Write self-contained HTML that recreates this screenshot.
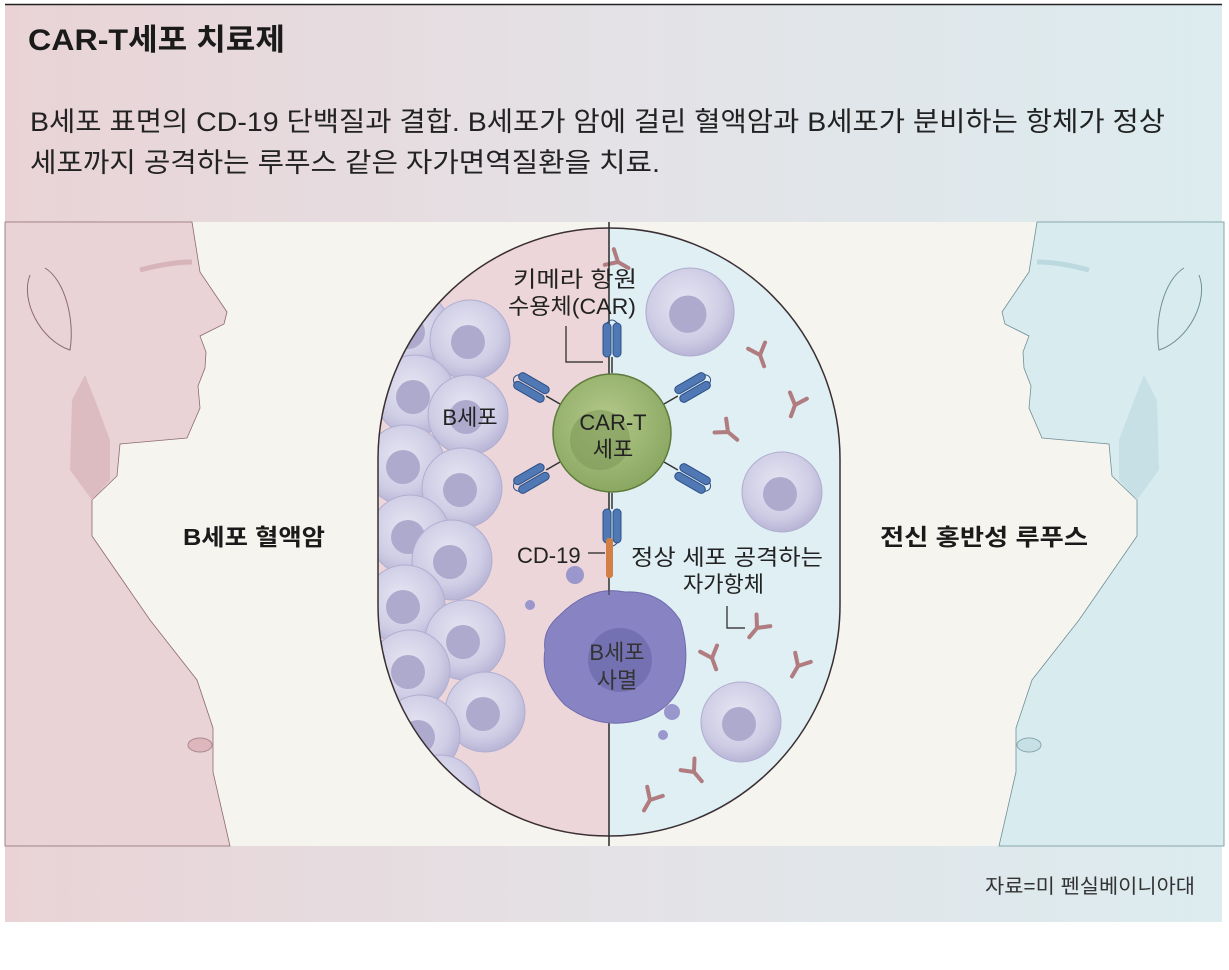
<!DOCTYPE html>
<html><head><meta charset="utf-8"><style>
html,body{margin:0;padding:0;background:#fff;}
body{width:1229px;height:970px;overflow:hidden;position:relative;font-family:"Liberation Sans","Noto Sans CJK KR",sans-serif;}
svg{position:absolute;left:0;top:0;}
</style></head><body>
<svg width="1229" height="970" viewBox="0 0 1229 970" xmlns="http://www.w3.org/2000/svg" font-family="Liberation Sans, Noto Sans CJK KR, sans-serif">
<defs>
<linearGradient id="bg" x1="0" x2="1" y1="0" y2="0">
<stop offset="0" stop-color="#e9d3d6"/><stop offset="0.5" stop-color="#e4e2e6"/><stop offset="1" stop-color="#dcecef"/>
</linearGradient>
<radialGradient id="cell" cx="0.45" cy="0.4" r="0.6">
<stop offset="0" stop-color="#e6e5f2"/><stop offset="0.7" stop-color="#cfcde5"/><stop offset="1" stop-color="#b8b5d6"/>
</radialGradient>
<radialGradient id="green" cx="0.45" cy="0.4" r="0.6">
<stop offset="0" stop-color="#b4c98a"/><stop offset="1" stop-color="#8ba863"/>
</radialGradient>
<clipPath id="cap"><path d="M378,459 A231,231 0 0 1 840,459 L840,605 A231,231 0 0 1 378,605 Z"/></clipPath>
<g id="c"><circle r="40" fill="url(#cell)" stroke="#b0add0" stroke-width="1"/><circle cx="-2" cy="2" r="17" fill="#aeaacd"/></g>
<g id="rec"><line x1="0" y1="0" x2="0" y2="-16" stroke="#333" stroke-width="1.5"/>
<rect x="-9" y="-50" width="8" height="34" rx="4" fill="#4f78b5" stroke="#2d4f86"/><rect x="1" y="-50" width="8" height="34" rx="4" fill="#4f78b5" stroke="#2d4f86"/>
<path d="M-5,-50 Q0,-56 5,-50" fill="none" stroke="#2d4f86"/></g>
<g id="ab" stroke="#b07c80" stroke-width="4" stroke-linecap="round" fill="none"><path d="M0,12 L0,0 L-9,-10 M0,0 L9,-10"/></g>
</defs>
<rect x="5" y="5" width="1217" height="917" fill="url(#bg)"/>
<line x1="5" y1="4.5" x2="1222" y2="4.5" stroke="#222" stroke-width="1.5"/>
<rect x="5" y="222" width="1217" height="624" fill="#f6f4ef"/>
<!-- left person -->
<path d="M5,222 L192,222 L200,272 L227,312 L224,324 L200,336 L206,352 L205,368 L198,386 L200,408 L187,438 L120,444 L117,476 L92,500 L92,536 L150,620 L197,680 L213,728 L213,772 L230,846 L5,846 Z" fill="#e9d3d6" stroke="#8c6a70" stroke-width="0.8"/>
<path d="M85,375 L95,400 L110,440 L110,480 L92,500 L70,470 L72,400Z" fill="#dcbcc1"/>
<path d="M30,275 C20,300 40,340 70,350 C75,320 65,280 45,268" fill="none" stroke="#8c6a70"/>
<path d="M140,270 Q170,262 192,262" stroke="#d6b4ba" stroke-width="5" fill="none"/>
<ellipse cx="200" cy="745" rx="12" ry="7" fill="#ddb7bc" stroke="#a98a90"/>
<!-- right person (mirrored) -->
<g transform="translate(1229,0) scale(-1,1)">
<path d="M5,222 L192,222 L200,272 L227,312 L224,324 L200,336 L206,352 L205,368 L198,386 L200,408 L187,438 L120,444 L117,476 L92,500 L92,536 L150,620 L197,680 L213,728 L213,772 L230,846 L5,846 Z" fill="#d8ecf0" stroke="#6f8f96" stroke-width="0.8"/>
<path d="M85,375 L95,400 L110,440 L110,480 L92,500 L70,470 L72,400Z" fill="#c6e0e6"/>
<path d="M30,275 C20,300 40,340 70,350 C75,320 65,280 45,268" fill="none" stroke="#6f8f96"/>
<path d="M140,270 Q170,262 192,262" stroke="#bcd9df" stroke-width="5" fill="none"/>
<ellipse cx="200" cy="745" rx="12" ry="7" fill="#c6e0e6" stroke="#8aa8ae"/>
</g>
<!-- capsule -->
<g clip-path="url(#cap)">
<rect x="378" y="228" width="231" height="620" fill="#ecd6d9"/>
<rect x="609" y="228" width="231" height="620" fill="#dfeff3"/>
<use href="#c" x="410" y="330"/><use href="#c" x="470" y="340"/>
<use href="#c" x="415" y="395"/><use href="#c" x="468" y="415"/>
<use href="#c" x="405" y="465"/><use href="#c" x="462" y="488"/>
<use href="#c" x="410" y="535"/><use href="#c" x="452" y="560"/>
<use href="#c" x="405" y="605"/><use href="#c" x="465" y="640"/>
<use href="#c" x="410" y="670"/><use href="#c" x="485" y="712"/>
<use href="#c" x="420" y="735"/><use href="#c" x="440" y="795"/>
<use href="#c" x="690" y="312" transform="translate(690,312) scale(1.1) translate(-690,-312)"/>
<use href="#c" x="782" y="492"/>
<use href="#c" x="741" y="722"/>
<use href="#ab" transform="translate(618,262) rotate(-60)"/>
<use href="#ab" transform="translate(760,355) rotate(-20)"/>
<use href="#ab" transform="translate(795,405) rotate(20)"/>
<use href="#ab" transform="translate(728,432) rotate(-50)"/>
<use href="#ab" transform="translate(712,658) rotate(-20)"/>
<use href="#ab" transform="translate(798,666) rotate(30)"/>
<use href="#ab" transform="translate(694,772) rotate(-40)"/>
<use href="#ab" transform="translate(650,800) rotate(30)"/>
</g>
<path d="M378,459 A231,231 0 0 1 840,459 L840,605 A231,231 0 0 1 378,605 Z" fill="none" stroke="#3a2f33" stroke-width="1.5"/>
<line x1="609" y1="222" x2="609" y2="846" stroke="#2a2a2a" stroke-width="1.5"/>
<!-- dead B cell -->
<path d="M560,615 Q590,585 625,592 Q660,590 680,620 Q690,650 683,680 Q670,715 630,722 Q595,728 565,705 Q540,680 545,650 Q542,630 560,615Z" fill="#8884c3" stroke="#6f6bad"/>
<circle cx="620" cy="660" r="32" fill="#7471b2"/>
<circle cx="575" cy="575" r="9" fill="#9a97cc"/><circle cx="530" cy="605" r="5" fill="#9a97cc"/><circle cx="672" cy="712" r="8" fill="#9a97cc"/><circle cx="663" cy="735" r="5" fill="#9a97cc"/>
<!-- CAR-T -->
<use href="#rec" transform="translate(612,373)"/>
<use href="#rec" transform="translate(612,493) rotate(180)"/>
<use href="#rec" transform="translate(560,404) rotate(-60)"/>
<use href="#rec" transform="translate(664,404) rotate(60)"/>
<use href="#rec" transform="translate(560,462) rotate(-120)"/>
<use href="#rec" transform="translate(664,462) rotate(120)"/>
<circle cx="612" cy="433" r="59" fill="url(#green)" stroke="#5d7a3a" stroke-width="1.5"/>
<circle cx="600" cy="440" r="30" fill="#7f9a5a" opacity="0.6"/>
<rect x="606" y="538" width="7" height="40" rx="3" fill="#d17f45"/>
<line x1="609" y1="578" x2="609" y2="595" stroke="#333"/>
<!-- labels -->
<g font-size="22" fill="#222">
<text x="513" y="287" textLength="124" lengthAdjust="spacingAndGlyphs">키메라 항원</text>
<text x="508" y="314" textLength="128" lengthAdjust="spacingAndGlyphs">수용체(CAR)</text>
<text x="470" y="425" text-anchor="middle">B세포</text>
<text x="613" y="430" text-anchor="middle">CAR-T</text>
<text x="613" y="457" text-anchor="middle">세포</text>
<text x="517" y="563">CD-19</text>
<text x="631" y="565" textLength="192" lengthAdjust="spacingAndGlyphs">정상 세포 공격하는</text>
<text x="683" y="592">자가항체</text>
<text x="617" y="660" text-anchor="middle" fill="#333">B세포</text>
<text x="617" y="688" text-anchor="middle" fill="#333">사멸</text>
</g>
<path d="M566,326 L566,362 L603,362" fill="none" stroke="#222" stroke-width="1.2"/>
<line x1="588" y1="553" x2="605" y2="553" stroke="#222" stroke-width="1.2"/>
<path d="M727,606 L727,628 L745,628" fill="none" stroke="#222" stroke-width="1.2"/>
<use href="#ab" transform="translate(757,628) rotate(40)"/>
<text x="183" y="545" font-size="23" font-weight="bold" fill="#1a1a1a" textLength="142" lengthAdjust="spacingAndGlyphs">B세포 혈액암</text>
<text x="880" y="545" font-size="23" font-weight="bold" fill="#1a1a1a" textLength="208" lengthAdjust="spacingAndGlyphs">전신 홍반성 루푸스</text>
<text x="28" y="50" font-size="30" font-weight="bold" fill="#1a1a1a" textLength="257" lengthAdjust="spacingAndGlyphs">CAR-T세포 치료제</text>
<text x="30" y="131" font-size="27" fill="#222" textLength="1135" lengthAdjust="spacingAndGlyphs">B세포 표면의 CD-19 단백질과 결합. B세포가 암에 걸린 혈액암과 B세포가 분비하는 항체가 정상</text>
<text x="30" y="172" font-size="27" fill="#222" textLength="630" lengthAdjust="spacingAndGlyphs">세포까지 공격하는 루푸스 같은 자가면역질환을 치료.</text>
<text x="985" y="893" font-size="20" fill="#333" textLength="210" lengthAdjust="spacingAndGlyphs">자료=미 펜실베이니아대</text>
</svg>
</body></html>
